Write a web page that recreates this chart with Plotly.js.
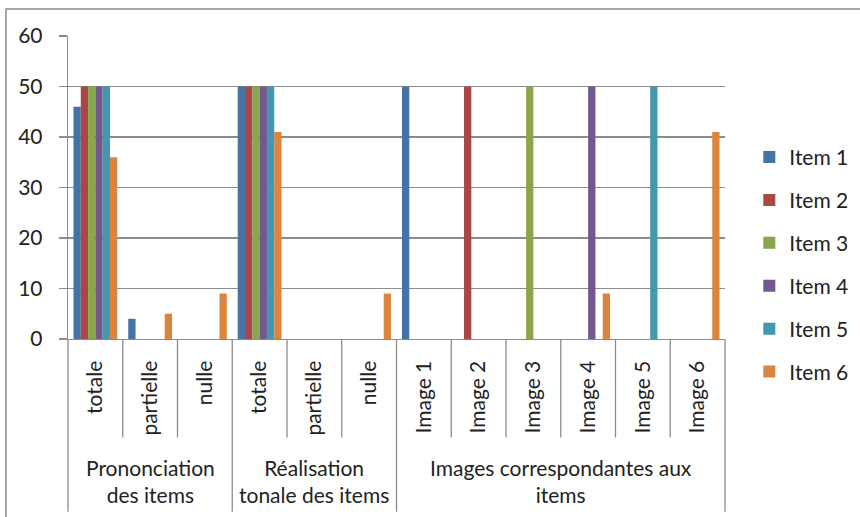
<!DOCTYPE html>
<html>
<head>
<meta charset="utf-8">
<script src="https://cdn.plot.ly/plotly-3.0.1.min.js"></script>
<style>
html,body{margin:0;padding:0;background:#fff;}
#chart{width:860px;height:517px;}
</style>
</head>
<body>
<div id="chart"></div>
<script>
// ---- data ----
const subLabels = ["totale","partielle","nulle","totale","partielle","nulle",
                   "Image 1","Image 2","Image 3","Image 4","Image 5","Image 6"];
const groupLabels = ["Prononciation<br>des items","Réalisation<br>tonale des items","Images correspondantes aux<br>items"];
const groupSizes = [3,3,6];
const seriesNames = ["Item 1","Item 2","Item 3","Item 4","Item 5","Item 6"];
const item1 = [46,4,0,50,0,0,50,0,0,0,0,0];
const item2 = [50,0,0,50,0,0,0,50,0,0,0,0];
const item3 = [50,0,0,50,0,0,0,0,50,0,0,0];
const item4 = [50,0,0,50,0,0,0,0,0,50,0,0];
const item5 = [50,0,0,50,0,0,0,0,0,0,50,0];
const item6 = [36,5,9,41,0,9,0,0,0,9,0,41];
const yTicks = [0,10,20,30,40,50,60];
const colors = ["#4572A7","#AA4643","#89A54E","#71588F","#4198AF","#DB843D"];

const FONT = "Lato, 'Open Sans', sans-serif";
const xIdx = subLabels.map((_, i) => i);
const allSeries = [item1,item2,item3,item4,item5,item6];

const traces = allSeries.map((vals, k) => ({
  type: "bar",
  name: seriesNames[k],
  x: xIdx,
  y: vals,
  marker: {color: colors[k], line: {width: 0}},
  legendgroup: "g" + k,
  hoverinfo: "skip"
}));

const n = subLabels.length;
const toPaper = b => (b + 0.5) / n; // boundary in category units -> paper
const shapes = [];
const annotations = [];
const lineCol = "#8c8c8c";
// sub-category separators
let groupStarts = [0];
groupSizes.forEach((s, i) => groupStarts.push(groupStarts[i] + s));
for (let b = 0; b <= n; b++) {
  const isGroup = groupStarts.includes(b);
  shapes.push({
    type: "line", xref: "paper", yref: "paper",
    x0: toPaper(b - 0.5), x1: toPaper(b - 0.5),
    y0: 0, y1: isGroup ? -0.57 : -0.325,
    line: {color: lineCol, width: 1.3}
  });
}
// group labels
groupLabels.forEach((g, i) => {
  const c = (groupStarts[i] + groupStarts[i + 1]) / 2 - 0.5;
  annotations.push({
    text: g, xref: "paper", yref: "paper",
    x: toPaper(c), y: -0.469, xanchor: "center", yanchor: "middle",
    showarrow: false, font: {family: FONT, size: 21, color: "#222"}
  });
});
// outer frame
shapes.push({
  type: "rect", xref: "paper", yref: "paper",
  x0: (6 - 68) / 657, x1: 1.4, y0: -0.8, y1: (339 - 9) / 303,
  line: {color: "#8c8c8c", width: 1.5}, fillcolor: "rgba(0,0,0,0)"
});

const layout = {
  width: 860, height: 517,
  margin: {l: 68, r: 135, t: 36, b: 178, autoexpand: false},
  paper_bgcolor: "#fff", plot_bgcolor: "#fff",
  barmode: "group", bargap: 0.2, bargroupgap: 0,
  font: {family: FONT, size: 21, color: "#222"},
  xaxis: {
    type: "linear", range: [-0.5, n - 0.5],
    tickvals: xIdx, ticktext: subLabels, tickangle: -90,
    ticks: "", showgrid: false, zeroline: false,
    showline: true, linecolor: lineCol, linewidth: 1.3,
    ticklabelstandoff: 12,
    tickfont: {family: FONT, size: 21, color: "#222"},
    automargin: false,
    fixedrange: true
  },
  yaxis: {
    range: [0, 60], tickvals: yTicks,
    ticks: "outside", ticklen: 8, tickcolor: lineCol, tickwidth: 1.3,
    showgrid: true, gridcolor: lineCol, gridwidth: 1.3,
    zeroline: false, showline: true, linecolor: lineCol, linewidth: 1.3,
    ticklabelstandoff: 12,
    tickfont: {family: FONT, size: 21, color: "#222"},
    automargin: false,
    fixedrange: true
  },
  legend: {
    x: 1.037, y: 0.667, xanchor: "left", yanchor: "top",
    font: {family: FONT, size: 21, color: "#222"},
    tracegroupgap: 12.6, bgcolor: "rgba(0,0,0,0)"
  },
  shapes: shapes,
  annotations: annotations,
  showlegend: true
};

Plotly.newPlot("chart", traces, layout, {displayModeBar: false, staticPlot: true});
</script>
</body>
</html>
